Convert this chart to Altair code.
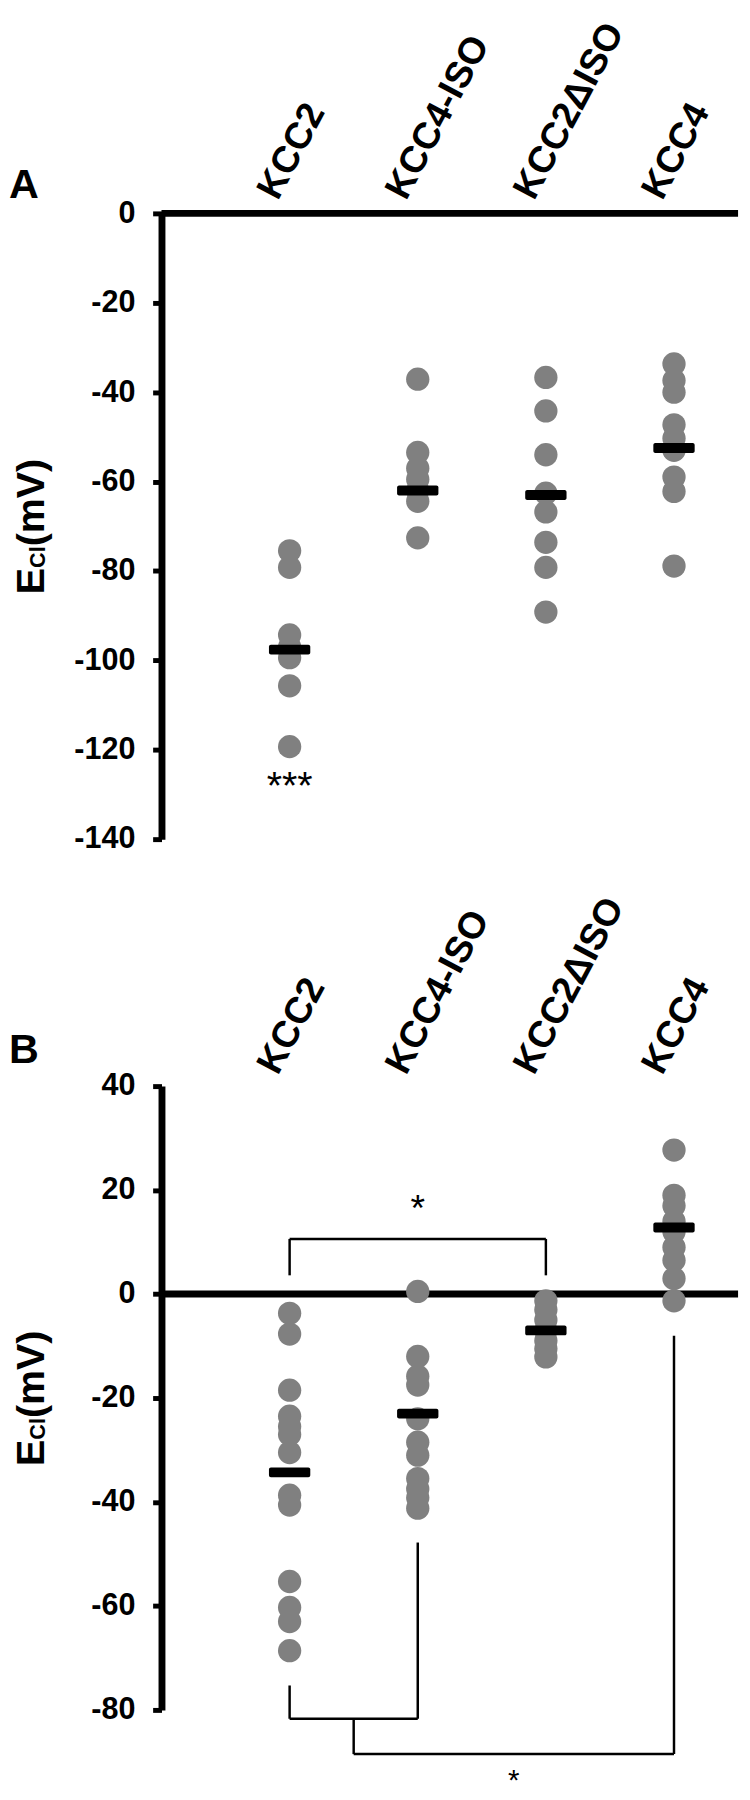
import altair as alt
import pandas as pd

categories = ["KCC2", "KCC4-ISO", "KCC2ΔISO", "KCC4"]
positions = [1, 2, 3, 4]

# Panel A values (mV)
a_kcc2 = [-75.5, -79.2, -94.3, -97, -99.4, -105.7, -119.3]
a_kcc4iso = [-37.1, -53.5, -57, -59.5, -62, -64.4, -72.6]
a_kcc2diso = [-36.7, -44.2, -54, -62.6, -66.8, -73.6, -79.2, -89.2]
a_kcc4 = [-33.7, -37.4, -40, -47.3, -50.3, -53, -59, -62.2, -78.9]
a_means = [-97.6, -62, -63, -52.5]

# Panel B values (mV)
b_kcc2 = [-3.7, -7.7, -18.5, -23.5, -25.5, -27, -30.5, -38.7, -40.6, -55.3, -60.3, -63, -68.6]
b_kcc4iso = [0.5, -12, -15.8, -17.5, -24, -28.5, -31, -35.5, -37.5, -39.2, -41.2]
b_kcc2diso = [-1.3, -3, -5, -7, -9, -10.5, -12.1]
b_kcc4 = [27.7, 19, 17, 14, 12, 9, 6.5, 3, -1.3]
b_means = [-34.3, -23, -7, 12.8]

a_ticks = [0, -20, -40, -60, -80, -100, -120, -140]
b_ticks = [40, 20, 0, -20, -40, -60, -80]

# significance brackets (x1, y1, x2, y2) in category position / mV units
b_brackets = [
    (1, 3.6, 1, 10.6), (1, 10.6, 3, 10.6), (3, 10.6, 3, 3.6),
    (1, -75.3, 1, -81.7), (2, -47.8, 2, -81.7), (1, -81.7, 2, -81.7),
    (1.5, -81.7, 1.5, -88.5), (1.5, -88.5, 4, -88.5), (4, -8, 4, -88.5),
]
a_brackets = []
a_stars = [(1, -131, "***", 40)]
b_stars = [(2, 14, "*", 38), (2.75, -95.5, "*", 30)]

W = 586
FONT = "Liberation Sans, Arial, sans-serif"


def panel(groups, means, ticks, domain, H, letter, letter_y, label_y, top_anchor,
          bottom_anchor, brackets, stars):
    rows = []
    for p, vals in zip(positions, groups):
        for v in vals:
            rows.append({"p": p, "v": v})
    dots = pd.DataFrame(rows)
    mdf = pd.DataFrame({"p": positions, "v": means})
    ldf = pd.DataFrame({"p": positions, "label": categories})

    yaxis = alt.Axis(values=ticks, title=None, grid=False, domainWidth=7,
                     domainColor="black", tickColor="black", tickWidth=5,
                     tickSize=9, labelFontSize=31, labelFont=FONT,
                     labelFontWeight="bold", labelColor="black", labelPadding=18,
                     labelExpr="datum.value + ''")
    yscale = alt.Scale(domain=domain, nice=False, zero=False)
    xscale = alt.Scale(domain=[0, 4.5])
    Y = alt.Y("v:Q", scale=yscale, axis=yaxis)
    X = alt.X("p:Q", scale=xscale, axis=None)

    # invisible layout anchors that fix the panel's bounds
    anchors = alt.Chart(pd.DataFrame({"k": [0]})).mark_rule(opacity=0).encode(
        x=alt.value(-166), x2=alt.value(-160),
        y=alt.value(top_anchor), y2=alt.value(H + bottom_anchor))

    zero = alt.Chart(pd.DataFrame({"v": [0]})).mark_rule(
        strokeWidth=7, color="black").encode(y=Y, x=alt.value(0), x2=alt.value(W))
    pts = alt.Chart(dots).mark_circle(size=560, color="#808080", opacity=1).encode(x=X, y=Y)
    bars = alt.Chart(mdf).mark_tick(orient="horizontal", size=42, thickness=10,
                                    color="black", opacity=1, cornerRadius=2).encode(x=X, y=Y)
    layers = [anchors, zero, pts, bars]
    if brackets:
        bdf = pd.DataFrame(brackets, columns=["p", "v", "p2", "v2"])
        layers.append(alt.Chart(bdf).mark_rule(strokeWidth=2.5, color="black").encode(
            x=X, y=Y, x2="p2:Q", y2="v2:Q"))
    for p, v, t, fs in stars:
        sdf = pd.DataFrame({"p": [p], "v": [v], "t": [t]})
        layers.append(alt.Chart(sdf).mark_text(fontSize=fs, font=FONT, color="black",
                                               baseline="alphabetic").encode(
            x=X, y=Y, text="t:N"))
    layers.append(alt.Chart(ldf).mark_text(angle=298, align="left", baseline="alphabetic",
                                           fontSize=38, fontWeight="bold", font=FONT,
                                           color="black", dx=-5.6, dy=-10.6).encode(
        x=X, y=alt.value(label_y), text="label:N"))
    layers.append(alt.Chart(pd.DataFrame({"t": [letter]})).mark_text(
        align="left", baseline="alphabetic", fontSize=42, fontWeight="bold", font=FONT,
        color="black").encode(x=alt.value(-155), y=alt.value(letter_y), text="t:N"))
    # y-axis title  E_Cl (mV)
    c = H / 2
    tparts = [("E", 40, -119, c + 69), ("Cl", 22, -118, c + 42.3), ("(mV)", 40, -119, c + 20.3)]
    for t, fs, xx, yy in tparts:
        layers.append(alt.Chart(pd.DataFrame({"t": [t]})).mark_text(
            angle=270, align="left", baseline="alphabetic", fontSize=fs,
            fontWeight="bold", font=FONT, color="black").encode(
            x=alt.value(xx), y=alt.value(yy), text="t:N"))
    return alt.layer(*layers).properties(width=W, height=H)


A = panel([a_kcc2, a_kcc4iso, a_kcc2diso, a_kcc4], a_means, a_ticks, [-140, 0], 636,
          "A", -16, -12, -240, 16, a_brackets, a_stars)
B = panel([b_kcc2, b_kcc4iso, b_kcc2diso, b_kcc4], b_means, b_ticks, [-80, 40], 634,
          "B", -23, -10, -235, 30, b_brackets, b_stars)

chart = alt.vconcat(A, B, spacing=0).properties(
    padding={"left": -10, "top": -46, "right": 0, "bottom": 0}
).configure(background="white").configure_view(strokeWidth=0, stroke=None)

chart.save("out.html", embed_options={"renderer": "svg", "actions": False})
